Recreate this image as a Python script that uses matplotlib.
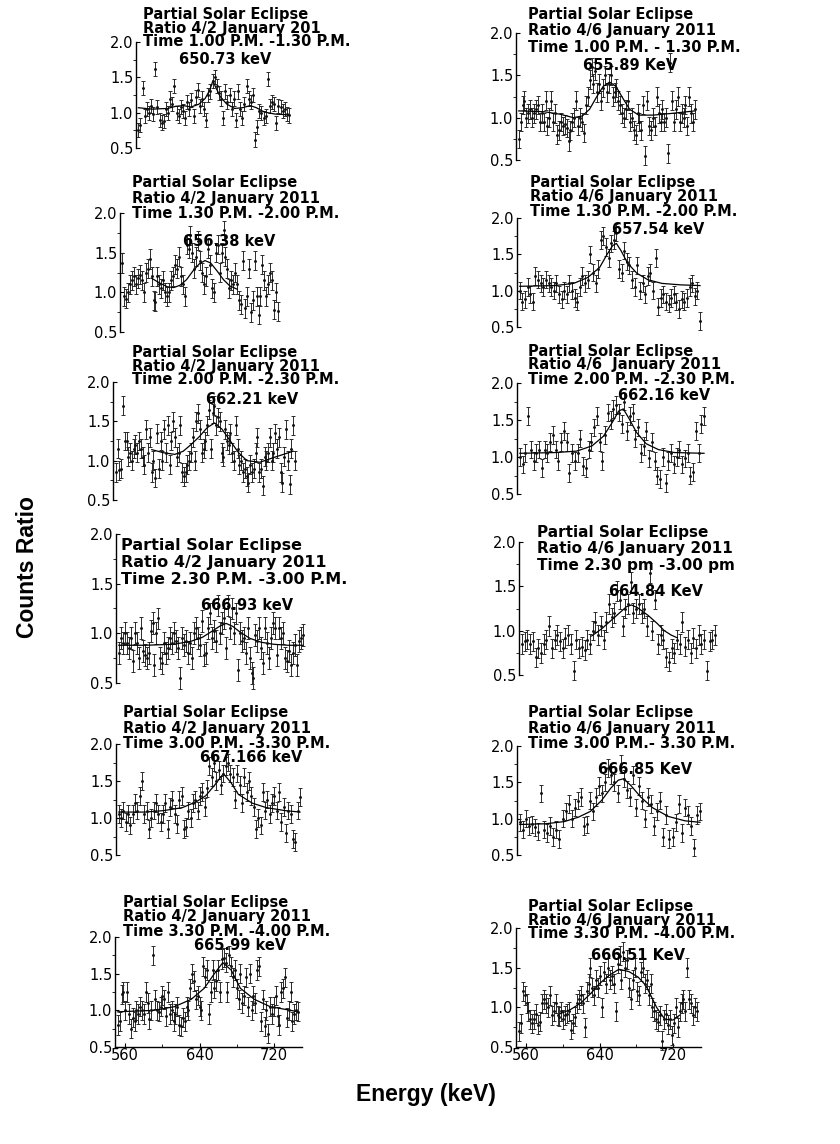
import numpy as np
import matplotlib
matplotlib.use("Agg")
import matplotlib.pyplot as plt
from matplotlib.ticker import FixedLocator

W, H = 840, 1144

vals_L1 = [0.76, 0.82, 1.35, 0.95, 1.05, 1.00, 1.10, 0.98, 1.62, 1.08, 0.90, 0.86, 0.88, 1.05, 1.00,
           1.20, 1.12, 1.38, 1.00, 0.95, 1.08, 1.02, 0.93, 1.15, 1.05, 1.18, 0.95, 1.22, 1.32, 1.10,
           1.20, 1.05, 0.90, 1.25, 1.30, 1.45, 1.50, 1.38, 1.28, 1.20, 0.92, 1.30, 1.15, 1.25, 1.05,
           1.20, 0.90, 1.30, 1.05, 0.92, 1.12, 1.38, 1.20, 1.15, 1.25, 0.62, 0.80, 1.02, 1.00, 0.92,
           0.95, 1.48, 1.10, 1.15, 1.12, 0.85, 1.10, 1.08, 1.02, 1.05, 0.98, 0.96]
vals_L2 = [1.37, 0.95, 0.92, 1.00, 1.10, 1.15, 1.20, 1.10, 1.18, 1.22, 1.15, 1.00, 1.25, 1.30, 1.42,
           1.20, 0.90, 0.88, 1.20, 1.10, 1.05, 1.15, 1.00, 0.95, 1.00, 1.15, 1.20, 1.35, 1.30, 1.45,
           1.20, 1.10, 0.95, 1.60, 1.55, 1.72, 1.50, 1.30, 1.45, 1.65, 1.40, 1.25, 1.10, 1.20, 1.55,
           1.35, 1.05, 1.00, 1.50, 1.60, 1.25, 1.50, 1.78, 1.45, 1.30, 1.05, 1.15, 1.10, 1.25, 1.10,
           0.90, 0.85, 1.40, 0.80, 0.95, 1.30, 0.75, 0.90, 1.40, 0.95, 0.72, 0.95, 1.35, 1.15, 0.95,
           1.10, 1.25, 1.15, 0.78, 1.00, 0.76]
vals_L3 = [0.85, 1.15, 0.88, 0.90, 1.70, 1.25, 1.25, 1.05, 1.10, 1.00, 1.15, 1.20, 1.10, 1.25, 1.15,
           1.05, 0.95, 1.40, 1.10, 1.30, 0.85, 1.00, 0.78, 1.35, 0.90, 1.25, 1.00, 1.40, 1.10, 1.45,
           0.95, 1.25, 1.50, 1.30, 1.05, 1.10, 1.45, 0.85, 0.80, 0.85, 0.95, 1.00, 1.10, 1.30, 1.00,
           1.50, 1.60, 1.40, 1.10, 1.15, 1.25, 1.45, 1.65, 1.15, 1.60, 1.70, 1.45, 1.55, 1.50, 1.10,
           1.05, 1.40, 1.25, 1.20, 1.35, 1.10, 1.00, 1.45, 1.15, 0.95, 1.00, 0.85, 0.90, 0.80, 0.72,
           0.95, 0.85, 0.90, 1.10, 1.30, 0.85, 0.90, 0.68, 1.05, 1.00, 1.10, 1.30, 1.00, 1.10, 1.35,
           1.15, 1.30, 0.85, 0.72, 1.05, 1.40, 1.00, 0.70, 1.15, 1.45, 1.00]
vals_L4 = [0.80, 0.95, 0.90, 1.00, 0.90, 0.85, 0.95, 0.72, 1.00, 0.90, 0.75, 1.05, 0.82, 0.78, 0.75,
           0.80, 1.02, 1.10, 0.68, 1.00, 1.15, 0.75, 0.70, 0.90, 0.80, 0.85, 0.95, 0.90, 1.00, 0.92,
           0.85, 0.55, 0.95, 0.88, 0.92, 0.80, 0.90, 0.75, 1.00, 1.05, 0.95, 0.88, 1.12, 0.78, 0.80,
           1.05, 1.20, 0.95, 1.02, 0.92, 1.28, 1.00, 1.10, 1.15, 0.85, 1.28, 1.05, 1.25, 1.00, 1.20,
           0.63, 1.00, 0.92, 0.95, 0.80, 1.05, 0.75, 0.60, 0.55, 0.98, 0.92, 1.05, 0.85, 0.70, 1.05,
           0.90, 0.75, 0.95, 1.10, 1.05, 0.78, 1.05, 0.95, 1.00, 0.75, 0.72, 0.82, 0.68, 0.80, 0.88,
           0.68, 0.92, 0.95, 0.98]
vals_L5 = [1.05, 1.00, 1.10, 0.95, 1.05, 0.90, 1.05, 1.20, 1.10, 1.30, 1.50, 1.05, 1.10, 0.85, 1.00,
           1.10, 1.20, 1.05, 0.95, 1.05, 1.20, 0.85, 1.15, 1.25, 1.05, 0.92, 1.25, 1.30, 0.85, 0.88,
           1.10, 1.00, 1.20, 1.25, 1.10, 1.30, 1.35, 1.15, 1.40, 1.70, 1.55, 1.75, 1.50, 1.65, 1.45,
           1.60, 1.70, 1.75, 1.60, 1.55, 1.25, 1.60, 1.45, 1.20, 1.55, 1.35, 1.50, 1.30, 1.15, 0.85,
           1.00, 0.90, 1.35, 1.10, 1.25, 1.05, 1.20, 1.30, 1.10, 1.35, 0.95, 1.15, 0.80, 1.10, 1.05,
           0.72, 0.68, 1.10, 1.28]
vals_L6 = [0.80, 0.85, 1.22, 1.25, 1.00, 1.25, 0.95, 0.75, 0.90, 0.85, 1.00, 0.95, 1.05, 1.00, 0.95,
           1.25, 1.10, 0.88, 1.00, 1.75, 1.15, 1.00, 0.98, 1.05, 1.20, 1.15, 0.92, 1.25, 0.95, 1.00,
           0.85, 0.95, 1.05, 0.80, 0.78, 0.90, 0.85, 1.05, 1.00, 1.30, 1.50, 1.40, 1.15, 1.20, 1.05,
           1.00, 1.60, 1.45, 1.55, 0.95, 1.25, 1.55, 1.30, 1.40, 1.55, 1.25, 1.70, 1.72, 1.65, 1.25,
           1.75, 1.60, 1.45, 1.55, 1.30, 1.15, 1.50, 1.10, 1.20, 1.45, 1.05, 1.50, 1.00, 1.20, 1.10,
           1.55, 1.60, 0.85, 1.15, 0.78, 1.00, 0.68, 1.05, 0.95, 1.05, 1.20, 0.92, 0.80, 1.25, 1.30,
           1.45, 0.90, 1.00, 1.25, 0.85, 0.95, 1.00, 0.98]
vals_R1 = [0.75, 0.95, 1.15, 1.20, 1.00, 1.05, 1.10, 1.00, 1.05, 1.10, 1.15, 0.95, 1.05, 0.95, 1.20,
           0.90, 1.00, 1.20, 0.95, 1.05, 0.80, 0.85, 0.95, 0.90, 0.92, 0.88, 0.72, 0.85, 0.95, 1.00,
           1.20, 0.90, 1.00, 0.95, 0.82, 1.15, 1.25, 1.45, 1.60, 1.40, 1.55, 1.30, 1.40, 1.20, 1.35,
           1.50, 1.30, 1.40, 1.50, 1.25, 1.30, 1.35, 1.20, 1.15, 1.05, 1.00, 1.10, 1.20, 0.95, 1.00,
           0.85, 0.80, 1.05, 0.95, 0.85, 1.15, 0.55, 1.20, 0.90, 0.85, 1.00, 0.90, 1.25, 1.05, 0.95,
           1.10, 0.95, 1.00, 0.58, 1.65, 1.20, 0.95, 1.10, 1.25, 0.95, 1.05, 1.00, 1.15, 0.90, 1.25,
           1.05, 0.95, 1.10]
vals_R2 = [1.00, 0.85, 0.88, 1.05, 0.95, 0.85, 1.20, 1.15, 1.10, 1.05, 1.15, 1.10, 1.05, 1.00, 1.10,
           0.95, 0.88, 1.00, 0.95, 1.10, 1.00, 0.90, 0.85, 1.05, 1.20, 1.10, 1.15, 1.50, 1.25, 1.10,
           1.30, 1.70, 1.75, 1.60, 1.45, 1.65, 1.70, 1.80, 1.30, 1.25, 1.55, 1.40, 1.35, 1.15, 1.05,
           1.35, 1.00, 1.10, 0.95, 1.20, 1.25, 1.00, 1.45, 0.78, 0.90, 0.95, 0.85, 0.82, 0.90, 0.95,
           0.85, 0.75, 0.88, 0.85, 0.90, 1.05, 1.10, 0.92, 1.00, 0.58]
vals_R3 = [1.00, 0.90, 1.05, 1.55, 1.10, 0.95, 1.05, 1.10, 0.85, 1.10, 1.05, 1.20, 1.30, 1.10, 0.95,
           1.20, 1.35, 1.20, 0.78, 1.05, 0.95, 1.05, 1.25, 0.88, 0.85, 1.10, 1.20, 1.40, 1.55, 1.20,
           0.95, 1.30, 1.60, 1.50, 1.65, 1.70, 1.60, 1.45, 1.75, 1.35, 1.55, 1.60, 1.25, 1.40, 1.05,
           1.15, 1.35, 0.98, 1.20, 0.95, 0.75, 0.70, 1.00, 0.65, 0.95, 1.05, 0.90, 1.00, 1.10, 0.90,
           0.98, 1.05, 0.75, 0.80, 1.35, 1.05, 1.45, 1.55]
vals_R4 = [0.85, 0.88, 0.90, 0.85, 0.88, 0.70, 0.80, 0.75, 0.85, 0.90, 1.05, 0.80, 0.90, 0.95, 0.88,
           0.80, 0.92, 0.95, 0.85, 0.55, 0.90, 0.80, 0.82, 0.78, 0.90, 0.85, 1.00, 1.10, 0.95, 1.05,
           0.90, 1.10, 1.30, 1.15, 1.20, 1.45, 1.35, 1.05, 1.25, 1.30, 1.55, 1.20, 1.25, 1.30, 1.20,
           1.25, 1.05, 1.65, 1.00, 1.35, 0.85, 0.95, 0.90, 0.70, 0.65, 0.80, 0.75, 0.90, 0.85, 1.10,
           0.82, 0.90, 0.75, 0.92, 0.80, 0.95, 0.85, 0.90, 0.55, 0.88, 0.90, 0.95]
vals_R5 = [0.95, 0.85, 1.00, 0.90, 0.92, 0.88, 0.82, 1.35, 0.85, 0.80, 0.90, 0.75, 0.85, 0.72, 1.00,
           1.10, 1.20, 1.00, 1.15, 1.25, 1.30, 0.90, 0.92, 1.25, 1.10, 1.30, 1.45, 1.35, 1.50, 1.70,
           1.60, 1.50, 1.35, 1.75, 1.55, 1.40, 1.30, 1.60, 1.15, 1.45, 1.25, 1.00, 1.30, 1.20, 0.90,
           1.10, 1.25, 0.75, 1.05, 0.72, 0.75, 0.95, 1.20, 0.80, 1.15, 1.05, 0.90, 0.60, 1.05, 1.10]
vals_R6 = [0.70, 0.80, 1.20, 1.15, 1.05, 0.95, 0.85, 0.80, 0.85, 0.92, 0.78, 0.82, 1.05, 1.10, 1.05,
           1.00, 1.15, 0.90, 0.95, 1.05, 0.90, 0.88, 0.95, 0.85, 0.90, 0.92, 0.95, 0.72, 0.80, 0.88,
           1.05, 1.10, 1.15, 1.05, 0.75, 1.20, 1.30, 1.50, 1.25, 1.15, 1.35, 1.25, 1.40, 1.00, 1.45,
           1.30, 1.50, 1.35, 1.40, 1.30, 0.95, 1.55, 1.65, 1.35, 1.70, 1.50, 1.60, 1.25, 1.10, 1.35,
           1.50, 1.20, 1.15, 1.45, 1.50, 1.30, 1.35, 1.15, 1.30, 1.00, 0.95, 0.85, 0.82, 0.90, 0.58,
           0.85, 0.92, 0.78, 0.85, 0.65, 0.80, 1.00, 0.75, 0.95, 1.05, 1.10, 0.95, 1.50, 1.10, 1.05,
           0.90, 1.00, 0.95]

# error bar half-heights per panel
err_L = [0.10, 0.12, 0.12, 0.11, 0.12, 0.13]
err_R = [0.11, 0.12, 0.12, 0.11, 0.12, 0.12]

# ---- fitted peak curves, sampled from the figure ----
fit_e_L1 = [552, 570, 590, 600, 610, 620, 630, 638, 644, 648, 652, 658, 666, 676, 686, 696, 704, 714, 728, 746]
fit_L1 = [1.07, 1.05, 1.06, 1.09, 1.10, 1.08, 1.12, 1.20, 1.32, 1.45, 1.35, 1.22, 1.12, 1.06, 1.07, 1.10, 1.07, 1.01, 0.98, 0.97]
fit_e_L2 = [588, 598, 608, 616, 624, 632, 640, 648, 655, 662, 670, 678, 686, 695]
fit_L2 = [1.18, 1.12, 1.07, 1.06, 1.09, 1.16, 1.27, 1.36, 1.40, 1.37, 1.27, 1.16, 1.08, 1.04]
fit_e_L3 = [591, 604, 616, 625, 633, 642, 651, 659, 667, 676, 685, 694, 708, 723, 744]
fit_L3 = [1.14, 1.10, 1.08, 1.12, 1.20, 1.30, 1.42, 1.48, 1.40, 1.25, 1.10, 1.00, 0.98, 1.04, 1.12]
fit_e_L4 = [552, 580, 610, 628, 640, 650, 658, 665, 672, 680, 690, 702, 715, 730, 746]
fit_L4 = [0.88, 0.88, 0.89, 0.92, 0.96, 1.02, 1.07, 1.10, 1.07, 1.01, 0.95, 0.91, 0.89, 0.88, 0.88]
fit_e_L5 = [552, 580, 600, 620, 635, 645, 655, 664, 672, 680, 695, 710, 730, 746]
fit_L5 = [1.08, 1.08, 1.10, 1.14, 1.22, 1.30, 1.45, 1.60, 1.48, 1.32, 1.20, 1.14, 1.10, 1.08]
fit_e_L6 = [552, 591, 613, 631, 645, 656, 665, 674, 684, 699, 716, 738, 746]
fit_L6 = [0.98, 1.00, 1.05, 1.15, 1.30, 1.50, 1.65, 1.55, 1.30, 1.15, 1.05, 1.00, 0.98]
fit_e_R1 = [552, 580, 598, 612, 622, 630, 638, 645, 652, 659, 666, 674, 684, 700, 720, 746]
fit_R1 = [1.08, 1.07, 1.04, 1.00, 1.02, 1.10, 1.25, 1.37, 1.42, 1.37, 1.24, 1.10, 1.03, 1.03, 1.05, 1.08]
fit_e_R2 = [552, 590, 610, 625, 638, 646, 652, 656, 661, 668, 678, 690, 705, 725, 746]
fit_R2 = [1.06, 1.07, 1.10, 1.18, 1.32, 1.50, 1.62, 1.65, 1.55, 1.38, 1.24, 1.15, 1.10, 1.08, 1.07]
fit_e_R3 = [552, 590, 612, 628, 640, 650, 656, 661, 667, 675, 685, 698, 715, 746]
fit_R3 = [1.05, 1.06, 1.08, 1.15, 1.28, 1.48, 1.62, 1.65, 1.52, 1.33, 1.18, 1.10, 1.06, 1.05]
fit_e_R4 = [622, 632, 642, 652, 657, 662, 668, 679, 688, 695, 702, 708]
fit_R4 = [0.94, 1.02, 1.12, 1.22, 1.27, 1.29, 1.26, 1.17, 1.08, 1.00, 0.95, 0.92]
fit_e_R5 = [552, 580, 600, 615, 628, 640, 650, 658, 664, 672, 682, 695, 712, 730, 746]
fit_R5 = [0.92, 0.93, 0.96, 1.02, 1.10, 1.25, 1.42, 1.53, 1.55, 1.45, 1.30, 1.15, 1.03, 0.97, 0.95]
fit_e_R6 = [597, 608, 619, 630, 640, 650, 661, 672, 682, 690, 697, 702, 711, 720, 727]
fit_R6 = [0.92, 0.97, 1.05, 1.17, 1.30, 1.40, 1.48, 1.45, 1.38, 1.28, 1.12, 1.00, 0.85, 0.84, 0.90]

titles_L = [
    ["Partial Solar Eclipse", "Ratio 4/2 January 201", "Time 1.00 P.M. -1.30 P.M."],
    ["Partial Solar Eclipse", "Ratio 4/2 January 2011", "Time 1.30 P.M. -2.00 P.M."],
    ["Partial Solar Eclipse", "Ratio 4/2 January 2011", "Time 2.00 P.M. -2.30 P.M."],
    ["Partial Solar Eclipse", "Ratio 4/2 January 2011", "Time 2.30 P.M. -3.00 P.M."],
    ["Partial Solar Eclipse", "Ratio 4/2 January 2011", "Time 3.00 P.M. -3.30 P.M."],
    ["Partial Solar Eclipse", "Ratio 4/2 January 2011", "Time 3.30 P.M. -4.00 P.M."],
]
titles_R = [
    ["Partial Solar Eclipse", "Ratio 4/6 January 2011", "Time 1.00 P.M. - 1.30 P.M."],
    ["Partial Solar Eclipse", "Ratio 4/6 January 2011", "Time 1.30 P.M. -2.00 P.M."],
    ["Partial Solar Eclipse", "Ratio 4/6  January 2011", "Time 2.00 P.M. -2.30 P.M."],
    ["Partial Solar Eclipse", "Ratio 4/6 January 2011", "Time 2.30 pm -3.00 pm"],
    ["Partial Solar Eclipse", "Ratio 4/6 January 2011", "Time 3.00 P.M.- 3.30 P.M."],
    ["Partial Solar Eclipse", "Ratio 4/6 January 2011", "Time 3.30 P.M. -4.00 P.M."],
]
peaks_L = ["650.73 keV", "656.38 keV", "662.21 keV", "666.93 keV", "667.166 keV", "665.99 keV"]
peaks_R = ["655.89 KeV", "657.54 keV", "662.16 keV", "664.84 KeV", "666.85 KeV", "666.51 KeV"]

vals = [vals_L1, vals_L2, vals_L3, vals_L4, vals_L5, vals_L6,
        vals_R1, vals_R2, vals_R3, vals_R4, vals_R5, vals_R6]
fits = [(fit_e_L1, fit_L1), (fit_e_L2, fit_L2), (fit_e_L3, fit_L3), (fit_e_L4, fit_L4),
        (fit_e_L5, fit_L5), (fit_e_L6, fit_L6), (fit_e_R1, fit_R1), (fit_e_R2, fit_R2),
        (fit_e_R3, fit_R3), (fit_e_R4, fit_R4), (fit_e_R5, fit_R5), (fit_e_R6, fit_R6)]
errs = err_L + err_R
titles = titles_L + titles_R
peaks = peaks_L + peaks_R

# ---- layout in pixels: spine x, data end x, y of 2.0, y of 0.5 ----
boxes = [(136, 289, 42, 148), (120, 278, 213, 332), (113, 295, 382, 500),
         (116, 303, 534, 683), (116, 300, 744, 855), (115, 298, 937, 1047),
         (516, 695, 33, 160), (517, 700, 218, 327), (517, 704, 383, 494),
         (519, 715, 542, 675), (517, 700, 746, 855), (516, 697, 928, 1047)]
# title x, line y's, font size ; peak label centre
title_pos = [(143, (15, 28, 42), 10.5), (132, (183, 198, 213), 10.5), (132, (352, 366, 380), 10.5),
             (121, (545, 563, 580), 11.5), (123, (713, 728, 744), 10.5), (123, (903, 917, 931), 10.5),
             (528, (15, 31, 47), 10.5), (530, (183, 197, 211), 10.5), (528, (351, 365, 380), 10.5),
             (537, (533, 549, 565), 11), (528, (713, 728, 744), 10.5), (528, (906, 920, 934), 10.5)]
peak_pos = [(225, 60), (229, 241), (252, 400), (247, 605), (251, 758), (240, 946),
            (630, 66), (658, 229), (664, 396), (656, 592), (645, 770), (638, 955)]

XMIN, XMAX = 549, 750
E0, E1 = 552, 746

fig = plt.figure(figsize=(W / 100, H / 100), dpi=100)

for i in range(12):
    sx, ex, yt, yb = boxes[i]
    w = (ex - sx) * (XMAX - XMIN) / (E1 - XMIN)
    ax = fig.add_axes([sx / W, 1 - yb / H, w / W, (yb - yt) / H])
    ax.patch.set_alpha(0)
    energy = np.linspace(E0, E1, len(vals[i]))
    ax.errorbar(energy, vals[i], yerr=errs[i], fmt='.', ms=2.2, color='#111111',
                ecolor='#2a2a2a', elinewidth=0.7, capsize=1.3, capthick=0.7)
    ax.plot(fits[i][0], fits[i][1], color='black', lw=0.9)
    for art in ax.get_children():
        art.set_clip_on(False)
    ax.set_xlim(XMIN, XMAX)
    ax.set_ylim(0.5, 2.0)
    for s in ['top', 'right']:
        ax.spines[s].set_visible(False)
    ax.spines['left'].set_linewidth(1.0)
    ax.yaxis.set_major_locator(FixedLocator([0.5, 1.0, 1.5, 2.0]))
    ax.yaxis.set_minor_locator(FixedLocator([0.75, 1.25, 1.75]))
    ax.set_yticklabels(['0.5', '1.0', '1.5', '2.0'], fontsize=10.5, family='DejaVu Sans')
    ax.tick_params(axis='y', which='major', direction='in', length=3, width=0.8, pad=2)
    ax.tick_params(axis='y', which='minor', direction='out', length=2, width=0.6)
    if i in (5, 11):
        ax.spines['bottom'].set_linewidth(1.0)
        ax.xaxis.set_major_locator(FixedLocator([560, 640, 720]))
        ax.xaxis.set_minor_locator(FixedLocator([600, 680]))
        ax.set_xticklabels(['560', '640', '720'], fontsize=10.5, family='DejaVu Sans')
        ax.tick_params(axis='x', which='major', direction='in', length=3, width=0.8, pad=1)
        ax.tick_params(axis='x', which='minor', direction='in', length=2, width=0.6)
    else:
        ax.spines['bottom'].set_visible(False)
        ax.set_xticks([])

    tx, tys, tsz = title_pos[i]
    for line, ty in zip(titles[i], tys):
        fig.text(tx / W, 1 - ty / H, line, fontsize=tsz, fontweight='bold',
                 family='DejaVu Sans', ha='left', va='center')
    px, py = peak_pos[i]
    fig.text(px / W, 1 - py / H, peaks[i], fontsize=10.5, fontweight='bold',
             family='DejaVu Sans', ha='center', va='center')

fig.text(28 / W, 1 - 567 / H, 'Counts Ratio', rotation=90, fontsize=16.5,
         fontweight='bold', family='Liberation Sans', ha='center', va='center')
fig.text(426 / W, 1 - 1095 / H, 'Energy (keV)', fontsize=16.5,
         fontweight='bold', family='Liberation Sans', ha='center', va='center')

fig.savefig('out.png', dpi=100, facecolor='white')
